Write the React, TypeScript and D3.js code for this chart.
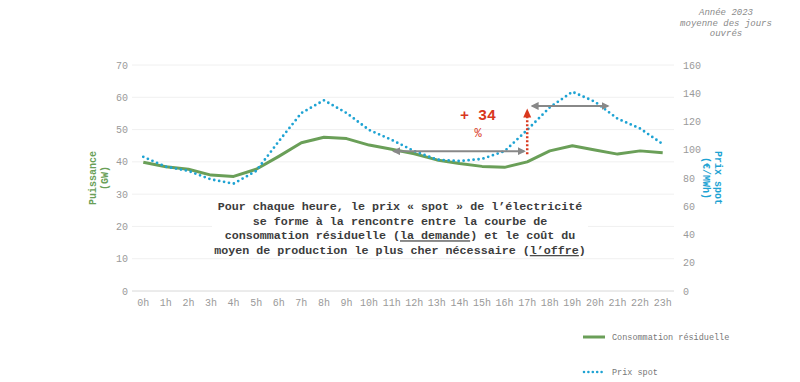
import React from "react";
import * as d3 from "d3";

const hours = ["0h","1h","2h","3h","4h","5h","6h","7h","8h","9h","10h","11h","12h","13h","14h","15h","16h","17h","18h","19h","20h","21h","22h","23h"];
const consommation = [39.9, 38.5, 37.7, 35.9, 35.5, 37.7, 41.7, 45.9, 47.6, 47.2, 45.2, 43.9, 42.5, 40.6, 39.5, 38.6, 38.3, 40.0, 43.4, 45.0, 43.7, 42.4, 43.4, 42.8];
const prixSpot = [95, 88, 85, 79, 76, 85, 106, 126, 135, 126, 114, 107, 99, 93, 92, 93.5, 99, 114, 130, 141, 134, 122, 115, 104];
const leftTicks = [0, 10, 20, 30, 40, 50, 60, 70];
const rightTicks = [0, 20, 40, 60, 80, 100, 120, 140, 160];

const arrowLow = { from: "11h", to: "17h", value: 99 };
const arrowHigh = { from: "17h", to: "20h", value: 131 };
const hausse = { hour: "17h", from: 99, to: 130, label: "+ 34", unit: "%" };

const GREEN = "#6a9f58";
const BLUE = "#1ea3d3";
const RED = "#d9381e";
const GRAY_ARROW = "#888888";
const MONO = "'Liberation Mono', 'DejaVu Sans Mono', monospace";

export default function App() {
  const W = 800, H = 382;
  const x0 = 132, x1 = 674, yTop = 65, yBot = 291;
  const x = d3.scaleBand<string>().domain(hours).range([x0, x1]);
  const cx = (h: string) => (x(h) as number) + x.bandwidth() / 2;
  const yL = d3.scaleLinear().domain([0, 70]).range([yBot, yTop]);
  const yR = d3.scaleLinear().domain([0, 160]).range([yBot, yTop]);

  const lineG = d3.line<number>().x((_, i) => cx(hours[i])).y((d) => yL(d))(consommation) as string;
  const lineB = d3.line<number>().x((_, i) => cx(hours[i])).y((d) => yR(d))(prixSpot) as string;

  const aLowX1 = cx(arrowLow.from) + 2, aLowX2 = cx(arrowLow.to) - 3, aLowY = yR(arrowLow.value);
  const aHiX1 = cx(arrowHigh.from) + 5, aHiX2 = cx(arrowHigh.to) + 13, aHiY = yR(arrowHigh.value);
  const rx = cx(hausse.hour);
  const rTop = yR(hausse.to) + 2;
  const rBot = yR(hausse.from) + 3;

  const textLines = [
    [{ t: "Pour chaque heure, le prix « spot » de l’électricité" }],
    [{ t: "se forme à la rencontre entre la courbe de" }],
    [{ t: "consommation résiduelle (" }, { t: "la demande", u: true }, { t: ") et le coût du" }],
    [{ t: "moyen de production le plus cher nécessaire (" }, { t: "l’offre", u: true }, { t: ")" }],
  ];

  return (
    <svg width={W} height={H} style={{ display: "block", position: "absolute", left: 0, top: 0 }}>
      <defs>
        <marker id="gh" viewBox="0 0 10 10" refX="8" refY="5" markerWidth="4" markerHeight="4" orient="auto-start-reverse">
          <path d="M0,0 L10,5 L0,10 z" fill={GRAY_ARROW} />
        </marker>
        <marker id="rh" viewBox="0 0 10 10" refX="5" refY="5" markerWidth="3.2" markerHeight="3.2" orient="auto">
          <path d="M0,0 L10,5 L0,10 z" fill={RED} />
        </marker>
      </defs>
      <rect width={W} height={H} fill="#fff" />
      {/* gridlines */}
      {leftTicks.map((t) => (
        <line key={t} x1={x0} x2={x1} y1={yL(t)} y2={yL(t)} stroke={t === 0 ? "#d8d8d8" : "#f0f0f0"} strokeWidth={1} />
      ))}
      {/* left ticks */}
      {leftTicks.map((t) => (
        <text key={"l" + t} x={128} y={yL(t) + 3.5} textAnchor="end" fontFamily={MONO} fontSize={10} fill="#9a9a9a">{t}</text>
      ))}
      {rightTicks.map((t) => (
        <text key={"r" + t} x={683} y={yR(t) + 3.5} textAnchor="start" fontFamily={MONO} fontSize={10} fill="#9a9a9a">{t}</text>
      ))}
      {hours.map((h) => (
        <text key={h} x={cx(h)} y={306} textAnchor="middle" fontFamily={MONO} fontSize={10} fill="#9a9a9a">{h}</text>
      ))}
      {/* axis titles */}
      <g transform="translate(98,178) rotate(-90)" fontFamily={MONO} fontSize={10} fontWeight="bold" fill={GREEN} textAnchor="middle">
        <text x={0} y={-2}>Puissance</text>
        <text x={0} y={10}>(GW)</text>
      </g>
      <g transform="translate(713,178) rotate(90)" fontFamily={MONO} fontSize={10} fontWeight="bold" fill={BLUE} textAnchor="middle">
        <text x={0} y={-2}>Prix spot</text>
        <text x={0} y={10}>(€/MWh)</text>
      </g>
      {/* text box */}
      <rect x={212} y={196} width={376} height={60} fill="#fff" />
      {textLines.map((segs, i) => (
        <text key={i} x={400} y={210 + i * 14.7} textAnchor="middle" fontFamily={MONO} fontSize={11.7} fontWeight="bold" fill="#3c3c3c" xmlSpace="preserve">
          {segs.map((s: any, j) => (
            <tspan key={j} textDecoration={s.u ? "underline" : undefined}>{s.t}</tspan>
          ))}
        </text>
      ))}
      {/* series */}
      <path d={lineG} fill="none" stroke={GREEN} strokeWidth={3} strokeLinejoin="round" />
      <path d={lineB} fill="none" stroke={BLUE} strokeWidth={2.8} strokeDasharray="0 5" strokeLinecap="round" />
      {/* annotations */}
      <line x1={aLowX1} x2={aLowX2} y1={aLowY} y2={aLowY} stroke={GRAY_ARROW} strokeWidth={2} markerStart="url(#gh)" markerEnd="url(#gh)" />
      <line x1={aHiX1} x2={aHiX2} y1={aHiY} y2={aHiY} stroke={GRAY_ARROW} strokeWidth={2} markerStart="url(#gh)" markerEnd="url(#gh)" />
      <line x1={rx} x2={rx} y1={rBot} y2={rTop + 6} stroke={RED} strokeWidth={2.5} strokeDasharray="2 2" />
      <path d={`M${rx - 4},${rTop + 8} L${rx},${rTop - 1} L${rx + 4},${rTop + 8} z`} fill={RED} />
      <text x={478} y={120} textAnchor="middle" fontFamily={MONO} fontSize={15} fontWeight="bold" fill={RED} xmlSpace="preserve">{hausse.label}</text>
      <text x={478} y={137} textAnchor="middle" fontFamily={MONO} fontSize={12} fill={RED}>{hausse.unit}</text>
      {/* top right note */}
      <g fontFamily={MONO} fontSize={9} fontStyle="italic" fill="#8a8a8a" textAnchor="middle">
        <text x={726} y={15}>Année 2023</text>
        <text x={726} y={25.5}>moyenne des jours</text>
        <text x={726} y={36}>ouvrés</text>
      </g>
      {/* legend */}
      <line x1={583} x2={605} y1={337} y2={337} stroke={GREEN} strokeWidth={3} />
      <text x={612} y={340} fontFamily={MONO} fontSize={8.5} fill="#777">Consommation résiduelle</text>
      <line x1={584} x2={606} y1={372} y2={372} stroke={BLUE} strokeWidth={2.6} strokeDasharray="0 4.4" strokeLinecap="round" />
      <text x={612} y={375} fontFamily={MONO} fontSize={8.5} fill="#777">Prix spot</text>
    </svg>
  );
}
